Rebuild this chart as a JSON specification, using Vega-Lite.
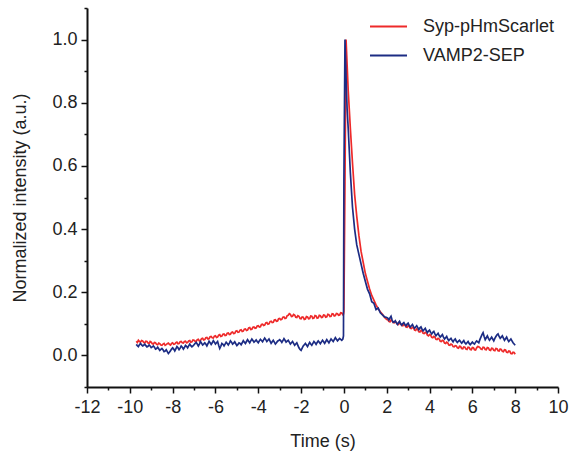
{
  "$schema": "https://vega.github.io/schema/vega-lite/v6.json",
  "width": 471,
  "height": 379,
  "autosize": {"type": "none"},
  "padding": {"left": 87, "top": 8, "right": 11, "bottom": 67},
  "background": "white",
  "config": {
    "view": {"stroke": null},
    "font": "Liberation Sans",
    "axis": {"grid": false, "domainColor": "#111", "domainWidth": 2, "tickColor": "#111", "tickWidth": 1.5, "labelColor": "#222", "labelFont": "Liberation Sans", "labelFontSize": 18, "titleFont": "Liberation Sans", "titleFontSize": 18, "titleFontWeight": "normal", "titleColor": "#222"}
  },
  "data": {"values": [
    {"t":-9.70,"r":0.045,"b":0.035},{"t":-9.65,"r":0.041,"b":0.031},{"t":-9.60,"r":0.048,"b":0.028},{"t":-9.55,"r":0.044,"b":0.034},{"t":-9.50,"r":0.042,"b":0.038},{"t":-9.45,"r":0.047,"b":0.033},{"t":-9.40,"r":0.046,"b":0.030},{"t":-9.35,"r":0.041,"b":0.032},{"t":-9.30,"r":0.040,"b":0.036},{"t":-9.25,"r":0.045,"b":0.031},
    {"t":-9.20,"r":0.044,"b":0.027},{"t":-9.15,"r":0.039,"b":0.029},{"t":-9.10,"r":0.038,"b":0.033},{"t":-9.05,"r":0.044,"b":0.030},{"t":-9.00,"r":0.042,"b":0.025},{"t":-8.95,"r":0.037,"b":0.027},{"t":-8.90,"r":0.036,"b":0.030},{"t":-8.85,"r":0.041,"b":0.026},{"t":-8.80,"r":0.040,"b":0.020},{"t":-8.75,"r":0.035,"b":0.022},
    {"t":-8.70,"r":0.034,"b":0.026},{"t":-8.65,"r":0.039,"b":0.021},{"t":-8.60,"r":0.037,"b":0.016},{"t":-8.55,"r":0.033,"b":0.019},{"t":-8.50,"r":0.032,"b":0.022},{"t":-8.45,"r":0.036,"b":0.018},{"t":-8.40,"r":0.038,"b":0.012},{"t":-8.35,"r":0.032,"b":0.014},{"t":-8.30,"r":0.034,"b":0.018},{"t":-8.25,"r":0.037,"b":0.012},
    {"t":-8.20,"r":0.039,"b":0.006},{"t":-8.15,"r":0.035,"b":0.010},{"t":-8.10,"r":0.033,"b":0.015},{"t":-8.05,"r":0.038,"b":0.020},{"t":-8.00,"r":0.040,"b":0.024},{"t":-7.95,"r":0.035,"b":0.020},{"t":-7.90,"r":0.036,"b":0.014},{"t":-7.85,"r":0.040,"b":0.021},{"t":-7.80,"r":0.042,"b":0.028},{"t":-7.75,"r":0.037,"b":0.024},
    {"t":-7.70,"r":0.038,"b":0.018},{"t":-7.65,"r":0.043,"b":0.023},{"t":-7.60,"r":0.044,"b":0.030},{"t":-7.55,"r":0.040,"b":0.026},{"t":-7.50,"r":0.039,"b":0.020},{"t":-7.45,"r":0.044,"b":0.025},{"t":-7.40,"r":0.045,"b":0.032},{"t":-7.35,"r":0.040,"b":0.029},{"t":-7.30,"r":0.041,"b":0.024},{"t":-7.25,"r":0.046,"b":0.030},
    {"t":-7.20,"r":0.047,"b":0.036},{"t":-7.15,"r":0.042,"b":0.031},{"t":-7.10,"r":0.043,"b":0.027},{"t":-7.05,"r":0.049,"b":0.030},{"t":-7.00,"r":0.048,"b":0.034},{"t":-6.95,"r":0.045,"b":0.038},{"t":-6.90,"r":0.044,"b":0.041},{"t":-6.85,"r":0.050,"b":0.036},{"t":-6.80,"r":0.051,"b":0.030},{"t":-6.75,"r":0.046,"b":0.036},
    {"t":-6.70,"r":0.047,"b":0.044},{"t":-6.65,"r":0.053,"b":0.039},{"t":-6.60,"r":0.054,"b":0.033},{"t":-6.55,"r":0.049,"b":0.036},{"t":-6.50,"r":0.050,"b":0.040},{"t":-6.45,"r":0.056,"b":0.036},{"t":-6.40,"r":0.057,"b":0.030},{"t":-6.35,"r":0.052,"b":0.037},{"t":-6.30,"r":0.053,"b":0.045},{"t":-6.25,"r":0.059,"b":0.040},
    {"t":-6.20,"r":0.060,"b":0.035},{"t":-6.15,"r":0.056,"b":0.040},{"t":-6.10,"r":0.055,"b":0.047},{"t":-6.05,"r":0.061,"b":0.042},{"t":-6.00,"r":0.062,"b":0.036},{"t":-5.95,"r":0.057,"b":0.040},{"t":-5.90,"r":0.058,"b":0.044},{"t":-5.85,"r":0.064,"b":0.032},{"t":-5.80,"r":0.066,"b":0.022},{"t":-5.75,"r":0.060,"b":0.029},
    {"t":-5.70,"r":0.061,"b":0.038},{"t":-5.65,"r":0.067,"b":0.035},{"t":-5.60,"r":0.068,"b":0.030},{"t":-5.55,"r":0.063,"b":0.036},{"t":-5.50,"r":0.064,"b":0.042},{"t":-5.45,"r":0.070,"b":0.038},{"t":-5.40,"r":0.071,"b":0.033},{"t":-5.35,"r":0.066,"b":0.039},{"t":-5.30,"r":0.067,"b":0.046},{"t":-5.25,"r":0.073,"b":0.042},
    {"t":-5.20,"r":0.074,"b":0.036},{"t":-5.15,"r":0.069,"b":0.039},{"t":-5.10,"r":0.070,"b":0.043},{"t":-5.05,"r":0.077,"b":0.037},{"t":-5.00,"r":0.078,"b":0.031},{"t":-4.95,"r":0.073,"b":0.035},{"t":-4.90,"r":0.074,"b":0.040},{"t":-4.85,"r":0.080,"b":0.038},{"t":-4.80,"r":0.081,"b":0.034},{"t":-4.75,"r":0.076,"b":0.040},
    {"t":-4.70,"r":0.077,"b":0.047},{"t":-4.65,"r":0.083,"b":0.042},{"t":-4.60,"r":0.084,"b":0.038},{"t":-4.55,"r":0.079,"b":0.044},{"t":-4.50,"r":0.080,"b":0.050},{"t":-4.45,"r":0.087,"b":0.045},{"t":-4.40,"r":0.088,"b":0.040},{"t":-4.35,"r":0.082,"b":0.046},{"t":-4.30,"r":0.083,"b":0.052},{"t":-4.25,"r":0.089,"b":0.047},
    {"t":-4.20,"r":0.090,"b":0.042},{"t":-4.15,"r":0.086,"b":0.045},{"t":-4.10,"r":0.087,"b":0.049},{"t":-4.05,"r":0.093,"b":0.044},{"t":-4.00,"r":0.094,"b":0.040},{"t":-3.95,"r":0.090,"b":0.046},{"t":-3.90,"r":0.091,"b":0.051},{"t":-3.85,"r":0.098,"b":0.047},{"t":-3.80,"r":0.099,"b":0.043},{"t":-3.75,"r":0.095,"b":0.049},
    {"t":-3.70,"r":0.096,"b":0.055},{"t":-3.65,"r":0.103,"b":0.050},{"t":-3.60,"r":0.104,"b":0.044},{"t":-3.55,"r":0.099,"b":0.048},{"t":-3.50,"r":0.100,"b":0.052},{"t":-3.45,"r":0.107,"b":0.045},{"t":-3.40,"r":0.108,"b":0.038},{"t":-3.35,"r":0.104,"b":0.043},{"t":-3.30,"r":0.105,"b":0.048},{"t":-3.25,"r":0.112,"b":0.042},
    {"t":-3.20,"r":0.113,"b":0.036},{"t":-3.15,"r":0.108,"b":0.040},{"t":-3.10,"r":0.109,"b":0.045},{"t":-3.05,"r":0.116,"b":0.047},{"t":-3.00,"r":0.117,"b":0.050},{"t":-2.95,"r":0.113,"b":0.046},{"t":-2.90,"r":0.114,"b":0.041},{"t":-2.85,"r":0.121,"b":0.047},{"t":-2.80,"r":0.122,"b":0.053},{"t":-2.75,"r":0.117,"b":0.048},
    {"t":-2.70,"r":0.118,"b":0.042},{"t":-2.65,"r":0.126,"b":0.045},{"t":-2.60,"r":0.127,"b":0.048},{"t":-2.55,"r":0.132,"b":0.042},{"t":-2.50,"r":0.130,"b":0.036},{"t":-2.45,"r":0.123,"b":0.040},{"t":-2.40,"r":0.124,"b":0.044},{"t":-2.35,"r":0.130,"b":0.038},{"t":-2.30,"r":0.128,"b":0.032},{"t":-2.25,"r":0.121,"b":0.036},
    {"t":-2.20,"r":0.120,"b":0.040},{"t":-2.15,"r":0.126,"b":0.032},{"t":-2.10,"r":0.124,"b":0.024},{"t":-2.05,"r":0.117,"b":0.019},{"t":-2.00,"r":0.116,"b":0.016},{"t":-1.95,"r":0.122,"b":0.023},{"t":-1.90,"r":0.121,"b":0.030},{"t":-1.85,"r":0.114,"b":0.034},{"t":-1.80,"r":0.115,"b":0.038},{"t":-1.75,"r":0.123,"b":0.033},
    {"t":-1.70,"r":0.122,"b":0.028},{"t":-1.65,"r":0.116,"b":0.035},{"t":-1.60,"r":0.117,"b":0.041},{"t":-1.55,"r":0.125,"b":0.036},{"t":-1.50,"r":0.124,"b":0.032},{"t":-1.45,"r":0.117,"b":0.038},{"t":-1.40,"r":0.118,"b":0.044},{"t":-1.35,"r":0.126,"b":0.040},{"t":-1.30,"r":0.125,"b":0.035},{"t":-1.25,"r":0.118,"b":0.041},
    {"t":-1.20,"r":0.119,"b":0.046},{"t":-1.15,"r":0.127,"b":0.042},{"t":-1.10,"r":0.126,"b":0.037},{"t":-1.05,"r":0.120,"b":0.043},{"t":-1.00,"r":0.121,"b":0.048},{"t":-0.95,"r":0.128,"b":0.043},{"t":-0.90,"r":0.127,"b":0.038},{"t":-0.85,"r":0.121,"b":0.044},{"t":-0.80,"r":0.122,"b":0.050},{"t":-0.75,"r":0.130,"b":0.045},
    {"t":-0.70,"r":0.129,"b":0.040},{"t":-0.65,"r":0.123,"b":0.046},{"t":-0.60,"r":0.124,"b":0.052},{"t":-0.55,"r":0.132,"b":0.048},{"t":-0.50,"r":0.131,"b":0.044},{"t":-0.45,"r":0.125,"b":0.050},{"t":-0.40,"r":0.126,"b":0.056},{"t":-0.35,"r":0.133,"b":0.051},{"t":-0.30,"r":0.132,"b":0.046},{"t":-0.25,"r":0.127,"b":0.050},
    {"t":-0.20,"r":0.128,"b":0.054},{"t":-0.15,"r":0.135,"b":0.051},{"t":-0.10,"r":0.134,"b":0.048},{"t":-0.05,"r":0.129,"b":0.052},{"t":-0.02,"r":0.131,"b":0.062},
    {"t":0.0,"r":0.140,"b":0.550},{"t":0.05,"r":0.550,"b":1.000},{"t":0.1,"r":1.000,"b":0.880},{"t":0.15,"r":0.920,"b":0.780},{"t":0.2,"r":0.840,"b":0.720},{"t":0.3,"r":0.720,"b":0.580},{"t":0.4,"r":0.610,"b":0.470},{"t":0.5,"r":0.510,"b":0.400},{"t":0.6,"r":0.440,"b":0.350},{"t":0.7,"r":0.380,"b":0.320},
    {"t":0.8,"r":0.330,"b":0.290},{"t":0.9,"r":0.295,"b":0.260},{"t":1.0,"r":0.260,"b":0.235},{"t":1.1,"r":0.235,"b":0.210},{"t":1.2,"r":0.210,"b":0.195},{"t":1.3,"r":0.190,"b":0.170},{"t":1.4,"r":0.175,"b":0.165},{"t":1.5,"r":0.160,"b":0.145},{"t":1.6,"r":0.148,"b":0.150},{"t":1.7,"r":0.138,"b":0.135},
    {"t":1.8,"r":0.130,"b":0.128},{"t":1.9,"r":0.120,"b":0.122},
    {"t":2.00,"r":0.114,"b":0.120},{"t":2.05,"r":0.113,"b":0.118},{"t":2.10,"r":0.108,"b":0.112},{"t":2.15,"r":0.106,"b":0.119},{"t":2.20,"r":0.112,"b":0.124},{"t":2.25,"r":0.110,"b":0.112},{"t":2.30,"r":0.104,"b":0.105},{"t":2.35,"r":0.103,"b":0.106},{"t":2.40,"r":0.107,"b":0.110},{"t":2.45,"r":0.104,"b":0.103},
    {"t":2.50,"r":0.099,"b":0.098},{"t":2.55,"r":0.098,"b":0.104},{"t":2.60,"r":0.103,"b":0.108},{"t":2.65,"r":0.101,"b":0.100},{"t":2.70,"r":0.095,"b":0.096},{"t":2.75,"r":0.094,"b":0.101},{"t":2.80,"r":0.098,"b":0.104},{"t":2.85,"r":0.096,"b":0.098},{"t":2.90,"r":0.090,"b":0.094},{"t":2.95,"r":0.089,"b":0.099},
    {"t":3.00,"r":0.094,"b":0.102},{"t":3.05,"r":0.092,"b":0.095},{"t":3.10,"r":0.086,"b":0.090},{"t":3.15,"r":0.085,"b":0.094},{"t":3.20,"r":0.089,"b":0.098},{"t":3.25,"r":0.087,"b":0.091},{"t":3.30,"r":0.080,"b":0.086},{"t":3.35,"r":0.079,"b":0.090},{"t":3.40,"r":0.084,"b":0.094},{"t":3.45,"r":0.082,"b":0.088},
    {"t":3.50,"r":0.075,"b":0.082},{"t":3.55,"r":0.074,"b":0.087},{"t":3.60,"r":0.079,"b":0.090},{"t":3.65,"r":0.077,"b":0.083},{"t":3.70,"r":0.070,"b":0.078},{"t":3.75,"r":0.069,"b":0.082},{"t":3.80,"r":0.073,"b":0.086},{"t":3.85,"r":0.071,"b":0.078},{"t":3.90,"r":0.064,"b":0.072},{"t":3.95,"r":0.062,"b":0.077},
    {"t":4.00,"r":0.066,"b":0.080},{"t":4.05,"r":0.064,"b":0.073},{"t":4.10,"r":0.057,"b":0.068},{"t":4.15,"r":0.056,"b":0.073},{"t":4.20,"r":0.060,"b":0.076},{"t":4.25,"r":0.058,"b":0.068},{"t":4.30,"r":0.051,"b":0.062},{"t":4.35,"r":0.050,"b":0.066},{"t":4.40,"r":0.054,"b":0.070},{"t":4.45,"r":0.052,"b":0.063},
    {"t":4.50,"r":0.045,"b":0.058},{"t":4.55,"r":0.044,"b":0.062},{"t":4.60,"r":0.048,"b":0.066},{"t":4.65,"r":0.046,"b":0.058},{"t":4.70,"r":0.039,"b":0.052},{"t":4.75,"r":0.038,"b":0.056},{"t":4.80,"r":0.042,"b":0.060},{"t":4.85,"r":0.040,"b":0.052},{"t":4.90,"r":0.033,"b":0.047},{"t":4.95,"r":0.032,"b":0.051},
    {"t":5.00,"r":0.036,"b":0.054},{"t":5.05,"r":0.034,"b":0.048},{"t":5.10,"r":0.028,"b":0.043},{"t":5.15,"r":0.027,"b":0.049},{"t":5.20,"r":0.031,"b":0.052},{"t":5.25,"r":0.030,"b":0.045},{"t":5.30,"r":0.024,"b":0.041},{"t":5.35,"r":0.023,"b":0.045},{"t":5.40,"r":0.029,"b":0.048},{"t":5.45,"r":0.028,"b":0.043},
    {"t":5.50,"r":0.022,"b":0.039},{"t":5.55,"r":0.021,"b":0.043},{"t":5.60,"r":0.027,"b":0.047},{"t":5.65,"r":0.026,"b":0.040},{"t":5.70,"r":0.020,"b":0.036},{"t":5.75,"r":0.019,"b":0.040},{"t":5.80,"r":0.026,"b":0.044},{"t":5.85,"r":0.025,"b":0.038},{"t":5.90,"r":0.019,"b":0.034},{"t":5.95,"r":0.018,"b":0.038},
    {"t":6.00,"r":0.025,"b":0.042},{"t":6.05,"r":0.024,"b":0.038},{"t":6.10,"r":0.018,"b":0.036},{"t":6.15,"r":0.017,"b":0.042},{"t":6.20,"r":0.024,"b":0.046},{"t":6.25,"r":0.028,"b":0.043},{"t":6.30,"r":0.027,"b":0.040},{"t":6.35,"r":0.025,"b":0.050},{"t":6.40,"r":0.020,"b":0.058},{"t":6.45,"r":0.019,"b":0.066},
    {"t":6.50,"r":0.026,"b":0.072},{"t":6.55,"r":0.025,"b":0.060},{"t":6.60,"r":0.019,"b":0.050},{"t":6.65,"r":0.018,"b":0.056},{"t":6.70,"r":0.025,"b":0.062},{"t":6.75,"r":0.024,"b":0.054},{"t":6.80,"r":0.017,"b":0.048},{"t":6.85,"r":0.016,"b":0.053},{"t":6.90,"r":0.023,"b":0.058},{"t":6.95,"r":0.022,"b":0.052},
    {"t":7.00,"r":0.016,"b":0.046},{"t":7.05,"r":0.015,"b":0.054},{"t":7.10,"r":0.022,"b":0.060},{"t":7.15,"r":0.021,"b":0.065},{"t":7.20,"r":0.015,"b":0.068},{"t":7.25,"r":0.014,"b":0.060},{"t":7.30,"r":0.020,"b":0.054},{"t":7.35,"r":0.019,"b":0.058},{"t":7.40,"r":0.013,"b":0.062},{"t":7.45,"r":0.012,"b":0.055},
    {"t":7.50,"r":0.018,"b":0.048},{"t":7.55,"r":0.017,"b":0.053},{"t":7.60,"r":0.010,"b":0.058},{"t":7.65,"r":0.009,"b":0.050},{"t":7.70,"r":0.014,"b":0.044},{"t":7.75,"r":0.013,"b":0.048},{"t":7.80,"r":0.006,"b":0.052},{"t":7.85,"r":0.005,"b":0.046},{"t":7.90,"r":0.010,"b":0.040},{"t":7.95,"r":0.009,"b":0.036},
    {"t":8.00,"r":0.004,"b":0.032}
  ]},
  "transform": [{"fold": ["r", "b"], "as": ["series", "value"]}],
  "layer": [
    {
      "mark": {"type": "line", "strokeWidth": 1.7},
      "encoding": {
        "x": {"field": "t", "type": "quantitative", "scale": {"domain": [-12, 10], "nice": false},
              "axis": {"orient": "bottom", "values": [-12,-10,-8,-6,-4,-2,0,2,4,6,8,10], "labelExpr": "toString(datum.value)", "tickSize": 6, "labelPadding": 5, "title": "Time (s)", "titlePadding": 16, "labelFlush": false}},
        "y": {"field": "value", "type": "quantitative", "scale": {"domain": [-0.1, 1.1], "nice": false, "zero": false},
              "axis": {"orient": "left", "values": [0, 0.2, 0.4, 0.6, 0.8, 1.0], "format": ".1f", "tickSize": 6, "labelPadding": 4, "title": "Normalized intensity (a.u.)", "titlePadding": 22}},
        "color": {"field": "series", "type": "nominal",
                  "scale": {"domain": ["r", "b"], "range": ["#ee2a2a", "#1c2c84"]},
                  "legend": {"orient": "none", "legendX": 282, "legendY": -1, "title": null, "symbolType": "stroke", "symbolSize": 1369, "symbolStrokeWidth": 2, "labelFontSize": 18, "labelColor": "#222", "labelFont": "Liberation Sans", "rowPadding": -8, "labelOffset": 15,
                             "labelExpr": "datum.value == 'r' ? 'Syp-pHmScarlet' : 'VAMP2-SEP'"}}
      }
    },
    {
      "mark": {"type": "line", "opacity": 0},
      "encoding": {
        "x": {"field": "t", "type": "quantitative",
              "axis": {"orient": "bottom", "values": [-11,-9,-7,-5,-3,-1,1,3,5,7,9], "tickSize": 3, "labels": false, "domain": false, "title": null}},
        "y": {"field": "value", "type": "quantitative",
              "axis": {"orient": "left", "values": [-0.1, 0.1, 0.3, 0.5, 0.7, 0.9, 1.1], "tickSize": 3, "labels": false, "domain": false, "title": null}},
        "detail": {"field": "series"}
      }
    }
  ],
  "resolve": {"axis": {"x": "independent", "y": "independent"}}
}
